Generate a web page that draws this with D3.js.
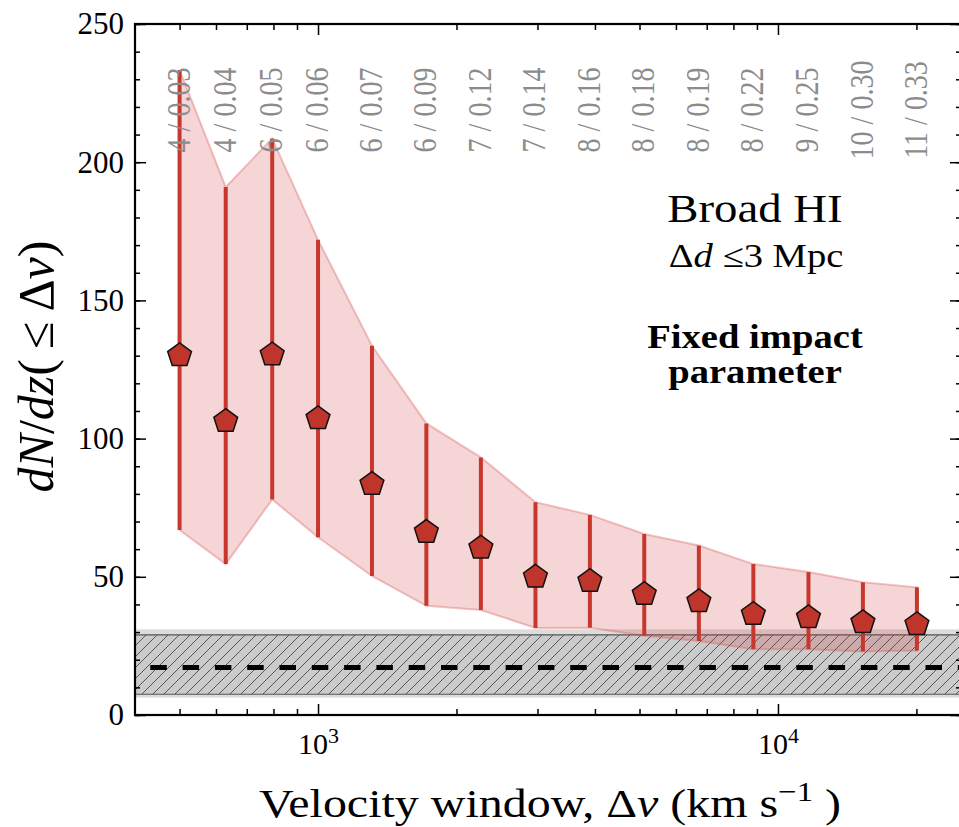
<!DOCTYPE html>
<html>
<head>
<meta charset="utf-8">
<script src="https://cdn.jsdelivr.net/npm/d3@7/dist/d3.min.js"></script>
<style>
  body { margin: 0; background: #fff; }
  svg { display: block; font-family: "Liberation Serif", "DejaVu Serif", serif; }
</style>
</head>
<body>
<svg id="chart" width="959" height="827"></svg>
<script>
// velocity window (km/s) for each bin
var velocities = [500, 630, 795, 1000, 1310, 1720, 2260, 2970, 3900, 5120, 6730, 8840, 11650, 15300, 20050];
// dN/dz values and their error bar ends
var dndz  = [130.1, 106.3, 130.4, 107.3, 83.5, 66.2, 60.5, 50.0, 48.4, 43.7, 41.1, 36.5, 35.3, 33.5, 32.8];
var upper = [233.4, 191.0, 208.6, 171.9, 133.6, 105.5, 93.2, 77.0, 72.4, 65.5, 61.3, 54.6, 51.7, 48.0, 46.2];
var lower = [66.9, 54.6, 78.0, 64.3, 50.3, 39.5, 38.0, 31.5, 31.6, 28.7, 26.8, 23.8, 23.8, 23.0, 23.3];
// counts / path length labels shown at the top
var binLabels = ['4 / 0.03', '4 / 0.04', '6 / 0.05', '6 / 0.06', '6 / 0.07', '6 / 0.09', '7 / 0.12', '7 / 0.14',
                 '8 / 0.16', '8 / 0.18', '8 / 0.19', '8 / 0.22', '9 / 0.25', '10 / 0.30', '11 / 0.33'];
// random expectation band
var randomOuter = [6.3, 31.0];
var randomInner = [7.5, 29.0];
var randomMean = 17.2;

var yMajor = [0, 50, 100, 150, 200, 250];
var yMinor = d3.range(0, 251, 10);
var xMajor = [1000, 10000];
var xMinor = [500, 600, 700, 800, 900, 2000, 3000, 4000, 5000, 6000, 7000, 8000, 9000, 20000];

var svg = d3.select('#chart');
var _left = 135, _right = 961, _top = 24, _bottom = 715;
var _stretch = 1.17; // the reference text is a bit wider than plain Times

var x = d3.scaleLog().domain([400, 25000]).range([_left, _right]);
var y = d3.scaleLinear().domain([0, 250]).range([_bottom, _top]);

var defs = svg.append('defs');
defs.append('clipPath').attr('id', 'plotclip')
  .append('rect').attr('x', _left).attr('y', _top).attr('width', _right - _left).attr('height', _bottom - _top);

var hatch = defs.append('pattern')
  .attr('id', 'hatch')
  .attr('patternUnits', 'userSpaceOnUse')
  .attr('width', 11).attr('height', 11);
hatch.append('rect').attr('width', 11).attr('height', 11).attr('fill', '#cbcbcb');
hatch.append('path')
  .attr('d', 'M-1,12 L12,-1 M-6.5,6.5 L6.5,-6.5 M4.5,17.5 L17.5,4.5')
  .attr('stroke', '#3a3a3a').attr('stroke-width', 0.8);

var plot = svg.append('g').attr('clip-path', 'url(#plotclip)');

//---------------------------------------------------------------------------------------
// RANDOM BAND
//---------------------------------------------------------------------------------------
plot.append('rect')
  .attr('x', _left).attr('width', _right - _left)
  .attr('y', y(randomOuter[1]))
  .attr('height', y(randomOuter[0]) - y(randomOuter[1]))
  .attr('fill', '#dcdcdc');

plot.append('rect')
  .attr('x', _left).attr('width', _right - _left)
  .attr('y', y(randomInner[1]))
  .attr('height', y(randomInner[0]) - y(randomInner[1]))
  .attr('fill', 'url(#hatch)');

[randomInner[0], randomInner[1]].forEach(function (v) {
  plot.append('line')
    .attr('x1', _left).attr('x2', _right)
    .attr('y1', y(v)).attr('y2', y(v))
    .attr('stroke', '#555').attr('stroke-width', 1.2);
});

plot.append('line')
  .attr('x1', _left).attr('x2', _right)
  .attr('y1', y(randomMean)).attr('y2', y(randomMean))
  .attr('stroke', '#000').attr('stroke-width', 5)
  .attr('stroke-dasharray', '16.5 15.8')
  .attr('stroke-dashoffset', 17);

//---------------------------------------------------------------------------------------
// SHADED RANGE + ERROR BARS + MARKERS
//---------------------------------------------------------------------------------------
var data = velocities.map(function (v, i) {
  return { v: v, val: dndz[i], hi: upper[i], lo: lower[i], label: binLabels[i] };
});

var area = d3.area()
  .x(function (d) { return x(d.v); })
  .y0(function (d) { return y(d.lo); })
  .y1(function (d) { return y(d.hi); });

plot.append('path')
  .datum(data)
  .attr('d', area)
  .attr('fill', 'rgba(205, 45, 45, 0.2)')
  .attr('stroke', 'rgba(215, 90, 90, 0.35)')
  .attr('stroke-width', 2);

plot.selectAll('.errbar')
  .data(data)
  .enter().append('line')
  .attr('class', 'errbar')
  .attr('x1', function (d) { return x(d.v); })
  .attr('x2', function (d) { return x(d.v); })
  .attr('y1', function (d) { return y(d.hi); })
  .attr('y2', function (d) { return y(d.lo); })
  .attr('stroke', '#c8372d')
  .attr('stroke-width', 4);

function pentagon(r) {
  var pts = d3.range(5).map(function (k) {
    var a = (-90 + 72 * k) * Math.PI / 180;
    return [r * Math.cos(a), r * Math.sin(a)];
  });
  return 'M' + pts.join('L') + 'Z';
}

plot.selectAll('.marker')
  .data(data)
  .enter().append('path')
  .attr('class', 'marker')
  .attr('d', pentagon(12.5))
  .attr('transform', function (d) { return 'translate(' + x(d.v) + ',' + y(d.val) + ')'; })
  .attr('fill', '#c0352b')
  .attr('stroke', '#111')
  .attr('stroke-width', 1.5)
  .attr('stroke-linejoin', 'miter');

// bin labels (rotated)
svg.selectAll('.bin-label')
  .data(data)
  .enter().append('text')
  .attr('class', 'bin-label')
  .attr('transform', function (d) {
    return 'translate(' + (x(d.v) + 10) + ',110) scale(' + _stretch + ',1) rotate(-90)';
  })
  .attr('text-anchor', 'middle')
  .attr('fill', '#8c8c8c')
  .style('font-size', '28px')
  .text(function (d) { return d.label; });

//---------------------------------------------------------------------------------------
// AXES
//---------------------------------------------------------------------------------------
function cleanAxis(g) {
  g.select('.domain').remove();
  g.selectAll('line').attr('stroke', '#000').attr('stroke-width', 1.5);
}

svg.append('g').attr('transform', 'translate(' + _left + ',0)')
  .call(d3.axisLeft(y).tickValues(yMinor).tickSize(-5).tickFormat(''))
  .call(cleanAxis);
svg.append('g').attr('transform', 'translate(' + _left + ',0)')
  .call(d3.axisLeft(y).tickValues(yMajor).tickSize(-11).tickPadding(11).tickFormat(d3.format('d')))
  .call(cleanAxis)
  .call(function (g) {
    g.selectAll('text').style('font-size', '31px').attr('fill', '#000')
      .style('font-family', '"Liberation Serif", serif');
  });

svg.append('g').attr('transform', 'translate(' + _right + ',0)')
  .call(d3.axisRight(y).tickValues(yMinor).tickSize(-5).tickFormat(''))
  .call(cleanAxis);
svg.append('g').attr('transform', 'translate(' + _right + ',0)')
  .call(d3.axisRight(y).tickValues(yMajor).tickSize(-11).tickFormat(''))
  .call(cleanAxis);

svg.append('g').attr('transform', 'translate(0,' + _top + ')')
  .call(d3.axisTop(x).tickValues(xMinor).tickSize(-6).tickFormat(''))
  .call(cleanAxis);
svg.append('g').attr('transform', 'translate(0,' + _top + ')')
  .call(d3.axisTop(x).tickValues(xMajor).tickSize(-11).tickFormat(''))
  .call(cleanAxis);

svg.append('g').attr('transform', 'translate(0,' + _bottom + ')')
  .call(d3.axisBottom(x).tickValues(xMinor).tickSize(-6).tickFormat(''))
  .call(cleanAxis);
var xAxisMajor = svg.append('g').attr('transform', 'translate(0,' + _bottom + ')')
  .call(d3.axisBottom(x).tickValues(xMajor).tickSize(-11).tickFormat(''))
  .call(cleanAxis);

xAxisMajor.selectAll('.tick').append('text')
  .attr('y', 39)
  .attr('x', 0)
  .attr('text-anchor', 'middle')
  .attr('fill', '#000')
  .style('font-size', '30px')
  .style('font-family', '"Liberation Serif", serif')
  .each(function (d) {
    var t = d3.select(this);
    t.append('tspan').text('10');
    t.append('tspan').attr('dy', -11).style('font-size', '22px').text(String(Math.round(Math.log10(d))));
  });

// frame
svg.append('rect')
  .attr('x', _left).attr('y', _top)
  .attr('width', _right - _left).attr('height', _bottom - _top)
  .attr('fill', 'none').attr('stroke', '#000').attr('stroke-width', 2.2);

//---------------------------------------------------------------------------------------
// AXIS TITLES & ANNOTATIONS
//---------------------------------------------------------------------------------------
var ylab = svg.append('text')
  .attr('transform', 'translate(53,' + ((_top + _bottom) / 2 - 3) + ') rotate(-90)')
  .attr('text-anchor', 'middle')
  .style('font-size', '50px');
ylab.append('tspan').style('font-style', 'italic').text('dN');
ylab.append('tspan').text('/');
ylab.append('tspan').style('font-style', 'italic').text('dz');
ylab.append('tspan').text('(\u2009\u2264\u2009\u0394');
ylab.append('tspan').style('font-style', 'italic').text('v');
ylab.append('tspan').text(')');

function stretched(px, py) {
  return 'translate(' + px + ',' + py + ') scale(' + _stretch + ',1)';
}

var xlab = svg.append('text')
  .attr('transform', stretched((_left + _right) / 2 + 2, 817))
  .attr('text-anchor', 'middle')
  .style('font-size', '41px');
xlab.append('tspan').text('Velocity window, \u0394');
xlab.append('tspan').style('font-style', 'italic').text('v');
xlab.append('tspan').text(' (km s');
xlab.append('tspan').attr('dy', -16).style('font-size', '28px').text('\u22121');
xlab.append('tspan').attr('dy', 16).text(' )');

svg.append('text')
  .attr('transform', stretched(755, 222))
  .attr('text-anchor', 'middle')
  .style('font-size', '40px')
  .text('Broad HI');

var sub = svg.append('text')
  .attr('transform', stretched(756, 267))
  .attr('text-anchor', 'middle')
  .style('font-size', '33px');
sub.append('tspan').text('\u0394');
sub.append('tspan').style('font-style', 'italic').text('d');
sub.append('tspan').text(' \u22643 Mpc');

svg.append('text')
  .attr('transform', stretched(755, 348))
  .attr('text-anchor', 'middle')
  .style('font-size', '33px').style('font-weight', 'bold')
  .text('Fixed impact');
svg.append('text')
  .attr('transform', stretched(755, 383))
  .attr('text-anchor', 'middle')
  .style('font-size', '33px').style('font-weight', 'bold')
  .text('parameter');
</script>
</body>
</html>
